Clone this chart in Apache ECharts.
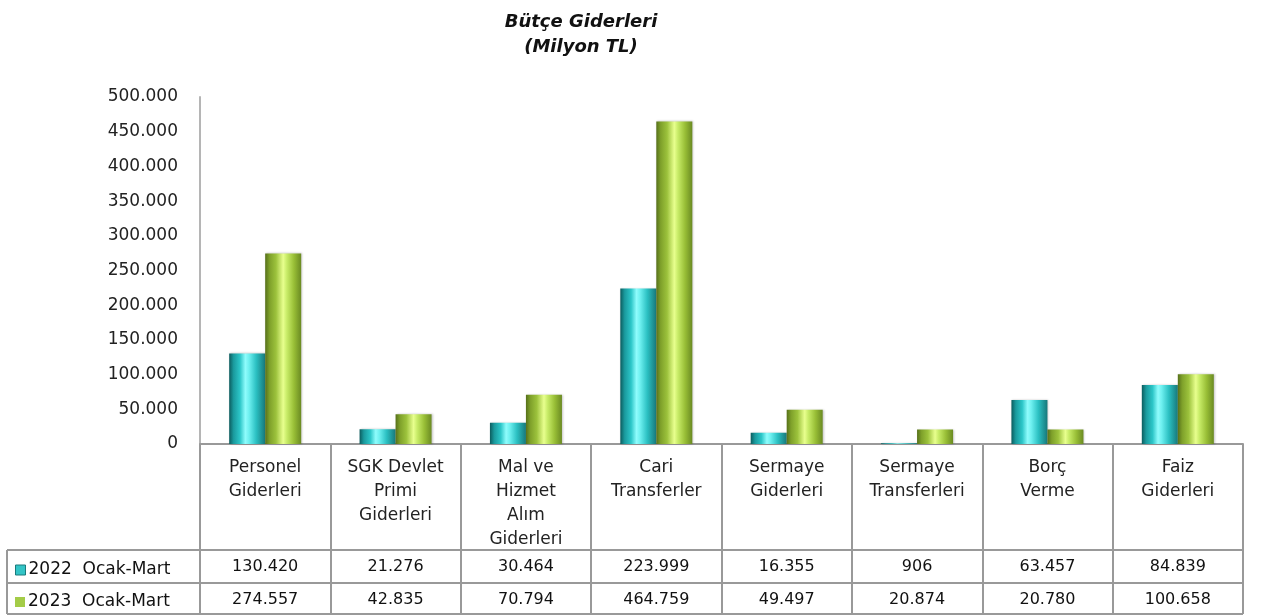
<!DOCTYPE html>
<html>
<head>
<meta charset="utf-8">
<script src="https://cdn.jsdelivr.net/npm/echarts@6/dist/echarts.min.js"></script>
<style>
  html, body { margin: 0; padding: 0; background: #fff; }
  #chart { width: 1264px; height: 616px; }
</style>
</head>
<body>
<div id="chart"></div>
<script>
// kategoriler ve seriler
const categories = [
  "Personel\nGiderleri",
  "SGK Devlet\nPrimi\nGiderleri",
  "Mal ve\nHizmet\nAlım\nGiderleri",
  "Cari\nTransferler",
  "Sermaye\nGiderleri",
  "Sermaye\nTransferleri",
  "Borç\nVerme",
  "Faiz\nGiderleri"
];
const seriesNames = ["2022  Ocak-Mart", "2023  Ocak-Mart"];
const values2022 = [130420, 21276, 30464, 223999, 16355, 906, 63457, 84839];
const values2023 = [274557, 42835, 70794, 464759, 49497, 20874, 20780, 100658];
const yTicks = [0, 50000, 100000, 150000, 200000, 250000, 300000, 350000, 400000, 450000, 500000];

// yerleşim
const W = 1264, H = 616;
const GRID_L = 200, GRID_R = 21, GRID_T = 97, GRID_B = 172;
const AXIS_Y = H - GRID_B;           // 444
const ROW1_Y = 550, ROW2_Y = 583, TABLE_BOTTOM = 614;
const TABLE_LEFT = 7, TABLE_RIGHT = W - GRID_R;
const FONT = "DejaVu Sans";

// binlik ayırıcı nokta
function fmt(n) {
  return String(n).replace(/\B(?=(\d{3})+(?!\d))/g, ".");
}

function cylinder(stops) {
  return new echarts.graphic.LinearGradient(0, 0, 1, 0,
    stops.map(c => ({ offset: c[0], color: c[1] })));
}

const tealFill = cylinder([
  [0, "#0c5c5e"], [0.12, "#1a9a9d"], [0.3, "#2cc6c8"], [0.45, "#8ffcfc"],
  [0.55, "#6ef0f0"], [0.75, "#2bc0c2"], [1, "#17787a"]
]);
const greenFill = cylinder([
  [0, "#56701a"], [0.12, "#7ea02a"], [0.3, "#9cc23c"], [0.5, "#e8ff8e"],
  [0.6, "#c8ec68"], [0.8, "#98be36"], [1, "#6a8a22"]
]);

const chart = echarts.init(document.getElementById("chart"));

const gridLine = { stroke: "#999", lineWidth: 2 };
function hline(y) {
  return { type: "line", shape: { x1: TABLE_LEFT, y1: y, x2: TABLE_RIGHT, y2: y }, style: gridLine, silent: true };
}

chart.setOption({
  backgroundColor: "#fff",
  animation: false,
  textStyle: { fontFamily: FONT },
  title: {
    text: "Bütçe Giderleri\n(Milyon TL)",
    left: 576,
    top: 5,
    textAlign: "center",
    textStyle: {
      fontFamily: FONT, fontSize: 18, fontWeight: "bold", fontStyle: "italic",
      color: "#111", lineHeight: 25
    }
  },
  legend: [
    {
      data: [seriesNames[0]], orient: "vertical", left: 10, top: (ROW1_Y + ROW2_Y) / 2 - 10,
      icon: "rect", itemWidth: 10, itemHeight: 10, itemGap: 0,
      selectedMode: false,
      itemStyle: { color: "#33c4c6", borderColor: "#1a7a7c", borderWidth: 1 },
      textStyle: { fontFamily: FONT, fontSize: 17, color: "#111", padding: [0, 0, 0, -2] }
    },
    {
      data: [seriesNames[1]], orient: "vertical", left: 10, top: (ROW2_Y + TABLE_BOTTOM) / 2 - 10,
      icon: "rect", itemWidth: 10, itemHeight: 10, itemGap: 0,
      selectedMode: false,
      itemStyle: { color: "#a4cc48" },
      textStyle: { fontFamily: FONT, fontSize: 17, color: "#111", padding: [0, 0, 0, -2] }
    }
  ],
  grid: { left: GRID_L, right: GRID_R, top: GRID_T, bottom: GRID_B, containLabel: false },
  xAxis: [
    {
      type: "category",
      data: categories,
      axisLine: { lineStyle: { color: "#999", width: 2 } },
      axisTick: { show: true, length: TABLE_BOTTOM - AXIS_Y, lineStyle: { color: "#999", width: 2 } },
      axisLabel: {
        interval: 0, margin: 12, fontFamily: FONT, fontSize: 17, color: "#222",
        lineHeight: 24, verticalAlign: "top", align: "center"
      }
    },
    {
      type: "category",
      data: categories,
      position: "bottom",
      axisLine: { show: false },
      axisTick: { show: false },
      axisLabel: {
        interval: 0, margin: (ROW1_Y + ROW2_Y) / 2 - AXIS_Y, verticalAlign: "middle",
        fontFamily: FONT, fontSize: 16, color: "#111",
        formatter: (v, i) => fmt(values2022[i])
      }
    },
    {
      type: "category",
      data: categories,
      position: "bottom",
      axisLine: { show: false },
      axisTick: { show: false },
      axisLabel: {
        interval: 0, margin: (ROW2_Y + TABLE_BOTTOM) / 2 - AXIS_Y + 1, verticalAlign: "middle",
        fontFamily: FONT, fontSize: 16, color: "#111",
        formatter: (v, i) => fmt(values2023[i])
      }
    }
  ],
  yAxis: {
    type: "value",
    min: yTicks[0],
    max: yTicks[yTicks.length - 1],
    interval: yTicks[1] - yTicks[0],
    axisLine: { show: true, lineStyle: { color: "#b5b5b5", width: 2 } },
    axisTick: { show: false },
    splitLine: { show: false },
    axisLabel: { margin: 22, fontFamily: FONT, fontSize: 17, color: "#222", formatter: v => fmt(v) }
  },
  series: [
    {
      name: seriesNames[0],
      type: "bar",
      data: values2022,
      barWidth: 36,
      barGap: "0%",
      itemStyle: {
        color: tealFill,
        shadowColor: "rgba(0,0,0,0.22)", shadowBlur: 2, shadowOffsetX: 1, shadowOffsetY: 0
      }
    },
    {
      name: seriesNames[1],
      type: "bar",
      data: values2023,
      barWidth: 36,
      barGap: "0%",
      itemStyle: {
        color: greenFill,
        shadowColor: "rgba(0,0,0,0.22)", shadowBlur: 2, shadowOffsetX: 1, shadowOffsetY: 0
      }
    }
  ],
  graphic: [
    hline(ROW1_Y),
    hline(ROW2_Y),
    hline(TABLE_BOTTOM),
    { type: "line", shape: { x1: TABLE_LEFT, y1: ROW1_Y, x2: TABLE_LEFT, y2: TABLE_BOTTOM }, style: gridLine, silent: true }
  ]
});
</script>
</body>
</html>
